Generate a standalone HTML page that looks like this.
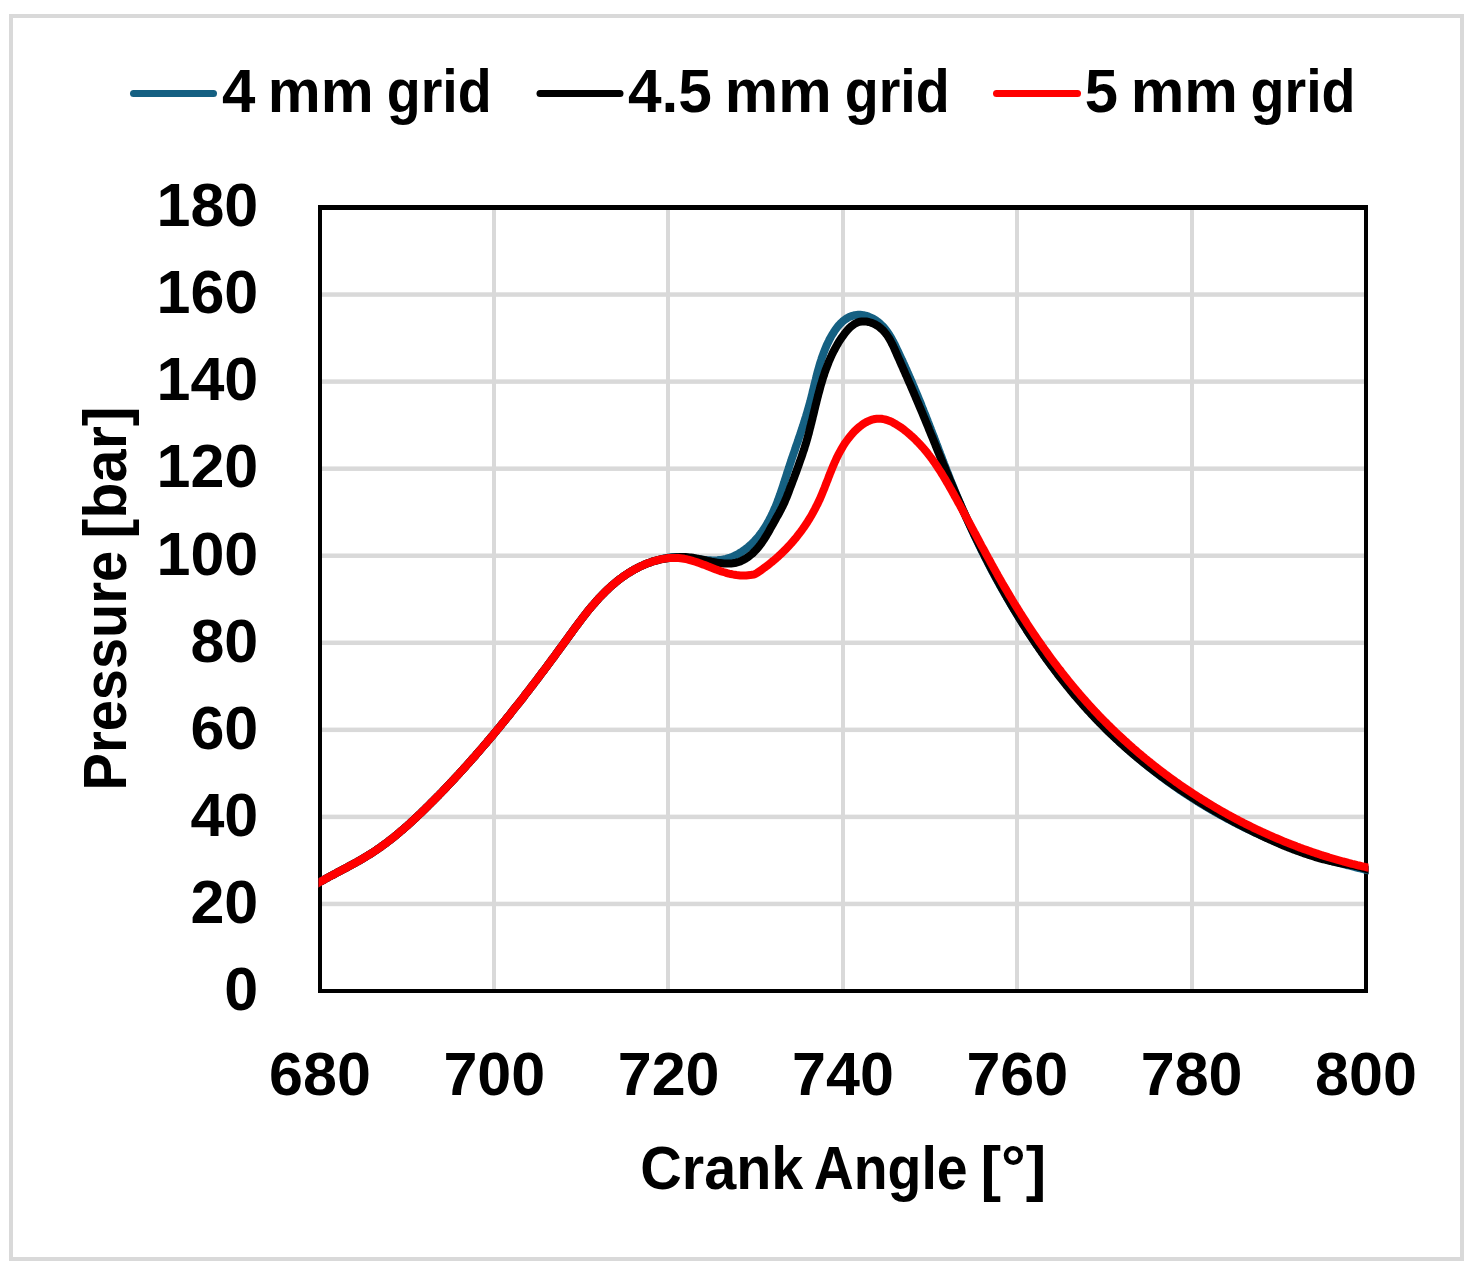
<!DOCTYPE html>
<html><head><meta charset="utf-8"><title>Pressure vs Crank Angle</title>
<style>html,body{margin:0;padding:0;background:#fff;}body{width:1473px;height:1271px;overflow:hidden;}svg{display:block;}</style>
</head><body>
<svg width="1473" height="1271" viewBox="0 0 1473 1271"><rect x="0" y="0" width="1473" height="1271" fill="#fff"/><rect x="11" y="16" width="1451" height="1243" fill="none" stroke="#d9d9d9" stroke-width="4"/><g fill="#d9d9d9"><rect x="322" y="901.69" width="1042" height="4.5"/><rect x="322" y="814.64" width="1042" height="4.5"/><rect x="322" y="727.58" width="1042" height="4.5"/><rect x="322" y="640.53" width="1042" height="4.5"/><rect x="322" y="553.47" width="1042" height="4.5"/><rect x="322" y="466.42" width="1042" height="4.5"/><rect x="322" y="379.36" width="1042" height="4.5"/><rect x="322" y="292.31" width="1042" height="4.5"/><rect x="492" y="210" width="4" height="779"/><rect x="666" y="210" width="4" height="779"/><rect x="841" y="210" width="4" height="779"/><rect x="1015" y="210" width="4" height="779"/><rect x="1190" y="210" width="4" height="779"/></g><g fill="#000"><rect x="318" y="205" width="4" height="788"/><rect x="1364" y="205" width="4" height="788"/><rect x="318" y="205" width="1050" height="5"/><rect x="318" y="989" width="1050" height="4"/></g><clipPath id="pc"><rect x="318.5" y="150" width="1050" height="843"/></clipPath><g fill="none" stroke-width="8" stroke-linejoin="round" clip-path="url(#pc)"><path d="M311.3,887.1 L313.0,886.1 L314.7,885.1 L316.4,884.1 L318.0,883.1 L319.7,882.1 L321.4,881.1 L323.1,880.2 L324.8,879.2 L326.5,878.3 L328.2,877.4 L329.9,876.4 L331.7,875.5 L333.4,874.6 L335.1,873.7 L336.8,872.8 L338.5,871.8 L340.3,870.9 L342.0,870.0 L343.7,869.1 L345.4,868.2 L347.2,867.3 L348.9,866.3 L350.6,865.4 L352.3,864.5 L354.0,863.5 L355.7,862.6 L357.4,861.6 L359.1,860.7 L360.8,859.7 L362.5,858.7 L364.1,857.8 L365.8,856.8 L367.5,855.7 L369.1,854.7 L370.8,853.7 L372.4,852.6 L374.0,851.6 L375.7,850.5 L377.3,849.4 L378.9,848.3 L380.5,847.2 L382.0,846.1 L383.6,844.9 L385.2,843.8 L386.7,842.6 L388.3,841.4 L389.8,840.2 L391.4,839.0 L392.9,837.8 L394.4,836.6 L395.9,835.4 L397.4,834.1 L398.9,832.9 L400.4,831.6 L401.9,830.3 L403.4,829.1 L404.8,827.8 L406.3,826.5 L407.8,825.2 L409.2,823.9 L410.7,822.6 L412.1,821.2 L413.5,819.9 L415.0,818.6 L416.4,817.2 L417.8,815.9 L419.2,814.5 L420.7,813.2 L422.1,811.8 L423.5,810.5 L424.9,809.1 L426.3,807.7 L427.7,806.3 L429.0,805.0 L430.4,803.6 L431.8,802.2 L433.2,800.8 L434.6,799.4 L435.9,798.1 L437.3,796.7 L438.7,795.3 L440.0,793.9 L441.4,792.5 L442.7,791.1 L444.1,789.7 L445.4,788.3 L446.8,786.9 L448.1,785.4 L449.4,784.0 L450.8,782.6 L452.1,781.2 L453.4,779.8 L454.8,778.4 L456.1,776.9 L457.4,775.5 L458.7,774.1 L460.0,772.6 L461.3,771.2 L462.6,769.8 L463.9,768.3 L465.3,766.9 L466.5,765.5 L467.8,764.0 L469.1,762.6 L470.4,761.1 L471.7,759.7 L473.0,758.2 L474.3,756.8 L475.6,755.3 L476.8,753.8 L478.1,752.4 L479.4,750.9 L480.6,749.5 L481.9,748.0 L483.2,746.5 L484.4,745.0 L485.7,743.6 L487.0,742.1 L488.2,740.6 L489.5,739.1 L490.7,737.7 L492.0,736.2 L493.2,734.7 L494.4,733.2 L495.7,731.7 L496.9,730.2 L498.2,728.7 L499.4,727.2 L500.6,725.7 L501.8,724.2 L503.1,722.7 L504.3,721.2 L505.5,719.7 L506.7,718.2 L508.0,716.7 L509.2,715.2 L510.4,713.7 L511.6,712.1 L512.8,710.6 L514.0,709.1 L515.2,707.6 L516.4,706.1 L517.7,704.5 L518.9,703.0 L520.1,701.5 L521.3,699.9 L522.5,698.4 L523.7,696.9 L524.8,695.3 L526.0,693.8 L527.2,692.3 L528.4,690.7 L529.6,689.2 L530.8,687.6 L532.0,686.1 L533.2,684.5 L534.3,683.0 L535.5,681.4 L536.7,679.9 L537.9,678.3 L539.1,676.8 L540.2,675.2 L541.4,673.6 L542.6,672.1 L543.8,670.5 L544.9,669.0 L546.1,667.4 L547.3,665.8 L548.4,664.2 L549.6,662.7 L550.8,661.1 L551.9,659.5 L553.1,657.9 L554.3,656.4 L555.4,654.8 L556.6,653.2 L557.8,651.6 L558.9,650.0 L560.1,648.4 L561.2,646.9 L562.4,645.3 L563.6,643.7 L564.7,642.1 L565.9,640.5 L567.0,638.9 L568.2,637.3 L569.3,635.7 L570.5,634.1 L571.7,632.5 L572.8,630.9 L574.0,629.3 L575.1,627.7 L576.3,626.2 L577.5,624.6 L578.7,623.0 L579.8,621.4 L581.0,619.9 L582.2,618.3 L583.4,616.8 L584.6,615.2 L585.8,613.7 L587.1,612.1 L588.3,610.6 L589.5,609.1 L590.8,607.6 L592.0,606.1 L593.3,604.6 L594.6,603.2 L595.8,601.7 L597.1,600.3 L598.4,598.8 L599.7,597.4 L601.1,596.0 L602.4,594.6 L603.7,593.3 L605.1,591.9 L606.5,590.5 L607.9,589.2 L609.3,587.9 L610.7,586.6 L612.1,585.3 L613.6,584.1 L615.1,582.9 L616.5,581.6 L618.0,580.4 L619.5,579.3 L621.1,578.1 L622.6,577.0 L624.2,575.9 L625.8,574.8 L627.4,573.7 L629.0,572.7 L630.7,571.7 L632.3,570.7 L634.0,569.7 L635.8,568.8 L637.5,567.9 L639.2,567.0 L641.0,566.1 L642.8,565.3 L644.6,564.5 L646.4,563.8 L648.3,563.1 L650.1,562.4 L652.0,561.7 L653.9,561.2 L656.8,560.3 L658.6,559.8 L660.4,559.4 L662.2,558.9 L664.0,558.5 L665.8,558.2 L667.6,557.8 L669.4,557.5 L671.3,557.3 L673.1,557.2 L675.0,557.0 L676.8,557.0 L678.7,557.0 L680.5,557.1 L682.4,557.2 L684.3,557.3 L686.1,557.5 L688.0,557.7 L689.9,558.0 L691.8,558.2 L693.6,558.5 L695.5,558.8 L697.3,559.0 L699.2,559.3 L701.1,559.5 L702.9,559.7 L704.7,559.9 L706.6,560.1 L708.4,560.2 L710.2,560.3 L712.0,560.4 L713.8,560.4 L715.6,560.4 L717.4,560.3 L719.2,560.1 L720.9,559.9 L722.6,559.6 L724.4,559.3 L726.1,558.9 L727.7,558.4 L729.4,557.9 L731.1,557.3 L732.7,556.6 L734.3,555.9 L735.9,555.1 L737.5,554.3 L739.0,553.5 L740.6,552.5 L742.1,551.6 L743.5,550.6 L745.0,549.5 L746.4,548.4 L747.8,547.3 L749.2,546.1 L750.6,544.9 L751.9,543.7 L753.2,542.4 L754.4,541.1 L755.6,539.8 L756.8,538.4 L758.0,537.1 L759.1,535.7 L760.2,534.2 L761.3,532.8 L762.4,531.3 L763.4,529.8 L764.4,528.3 L765.4,526.8 L766.3,525.2 L767.2,523.6 L768.1,522.1 L769.0,520.4 L769.8,518.8 L770.7,517.2 L771.5,515.5 L772.3,513.9 L773.1,512.2 L773.8,510.5 L774.5,508.8 L775.3,507.1 L776.0,505.4 L776.7,503.6 L777.4,501.9 L778.0,500.1 L778.7,498.4 L779.3,496.6 L780.0,494.8 L780.6,493.1 L781.2,491.3 L781.8,489.5 L782.4,487.7 L783.0,485.9 L783.6,484.1 L784.2,482.3 L784.7,480.6 L785.3,478.8 L785.9,477.0 L786.5,475.2 L787.0,473.4 L787.6,471.7 L788.2,469.9 L788.8,468.1 L789.3,466.4 L789.9,464.6 L790.5,462.9 L791.1,461.1 L791.6,459.4 L792.2,457.7 L792.8,455.9 L793.4,454.2 L794.0,452.5 L794.6,450.8 L795.2,449.1 L795.7,447.4 L796.3,445.7 L796.9,444.0 L797.5,442.3 L798.1,440.6 L798.6,438.9 L799.2,437.2 L799.8,435.5 L800.4,433.8 L800.9,432.1 L801.5,430.4 L802.1,428.7 L802.6,427.0 L803.2,425.3 L803.7,423.6 L804.3,421.9 L804.8,420.2 L805.3,418.5 L805.9,416.7 L806.4,415.0 L806.9,413.3 L807.4,411.6 L807.9,409.8 L808.4,408.1 L808.9,406.4 L809.4,404.6 L809.9,402.9 L810.4,401.1 L810.8,399.4 L811.3,397.6 L811.7,395.8 L812.2,394.0 L812.6,392.2 L813.0,390.4 L813.5,388.7 L813.9,386.9 L814.3,385.1 L814.8,383.3 L815.2,381.5 L815.7,379.7 L816.1,377.9 L816.6,376.0 L817.0,374.2 L817.5,372.4 L818.0,370.6 L818.5,368.9 L819.0,367.1 L819.5,365.3 L820.0,363.5 L820.6,361.7 L821.2,359.9 L821.7,358.2 L822.3,356.4 L823.0,354.7 L823.6,352.9 L824.3,351.2 L825.0,349.4 L825.7,347.7 L826.4,346.0 L827.2,344.3 L828.0,342.6 L828.8,341.0 L829.6,339.3 L830.5,337.7 L831.4,336.0 L832.4,334.4 L833.4,332.8 L834.4,331.2 L835.5,329.6 L836.6,328.1 L837.7,326.6 L838.9,325.2 L840.1,323.9 L841.4,322.6 L842.7,321.4 L844.1,320.2 L845.5,319.2 L847.0,318.3 L848.5,317.4 L850.0,316.7 L851.6,316.1 L853.3,315.6 L854.9,315.2 L856.6,315.0 L858.3,314.8 L860.0,314.8 L861.8,315.0 L863.5,315.2 L865.2,315.6 L866.9,316.0 L868.6,316.6 L870.2,317.3 L871.9,318.1 L873.5,318.9 L875.1,319.9 L876.6,320.9 L878.1,322.0 L879.5,323.1 L880.8,324.4 L882.1,325.6 L883.4,326.9 L884.6,328.3 L885.7,329.7 L886.9,331.2 L887.9,332.7 L888.9,334.2 L889.9,335.8 L890.9,337.4 L891.8,339.0 L892.7,340.7 L893.6,342.3 L894.5,344.0 L895.3,345.7 L896.1,347.4 L896.9,349.1 L897.7,350.8 L898.5,352.5 L899.3,354.2 L900.1,355.9 L900.9,357.6 L901.7,359.3 L902.5,360.9 L903.2,362.6 L904.0,364.3 L904.7,366.0 L905.5,367.7 L906.3,369.3 L907.0,371.0 L907.7,372.7 L908.5,374.4 L909.2,376.0 L909.9,377.7 L910.7,379.4 L911.4,381.1 L912.1,382.7 L912.8,384.4 L913.5,386.1 L914.2,387.7 L914.9,389.4 L915.6,391.1 L916.3,392.8 L917.0,394.4 L917.7,396.1 L918.4,397.8 L919.1,399.5 L919.8,401.1 L920.5,402.8 L921.2,404.5 L921.8,406.2 L922.5,407.9 L923.2,409.6 L923.8,411.2 L924.5,412.9 L925.2,414.6 L925.8,416.3 L926.5,418.0 L927.2,419.7 L927.8,421.4 L928.5,423.1 L929.1,424.8 L929.8,426.5 L930.5,428.2 L931.1,429.9 L931.8,431.5 L932.4,433.2 L933.1,434.9 L933.7,436.6 L934.4,438.3 L935.0,440.0 L935.7,441.7 L936.3,443.4 L937.0,445.1 L937.6,446.8 L938.3,448.5 L938.9,450.2 L939.6,451.9 L940.2,453.6 L940.9,455.4 L941.5,457.1 L942.2,458.8 L942.8,460.5 L943.5,462.2 L944.1,463.9 L944.8,465.6 L945.5,467.3 L946.1,469.0 L946.8,470.7 L947.5,472.4 L948.1,474.1 L948.8,475.8 L949.5,477.5 L950.1,479.2 L950.8,480.9 L951.5,482.5 L952.2,484.2 L952.9,485.9 L953.5,487.6 L954.2,489.3 L954.9,491.0 L955.6,492.7 L956.3,494.4 L957.0,496.1 L957.7,497.8 L958.4,499.5 L959.1,501.2 L959.8,502.8 L960.6,504.5 L961.3,506.2 L962.0,507.9 L962.7,509.6 L963.5,511.2 L964.2,512.9 L964.9,514.6 L965.7,516.3 L966.4,518.0 L967.2,519.6 L967.9,521.3 L968.7,523.0 L969.4,524.6 L970.2,526.3 L971.0,528.0 L971.7,529.6 L972.5,531.3 L973.3,533.0 L974.0,534.6 L974.8,536.3 L975.6,537.9 L976.4,539.6 L977.2,541.2 L978.0,542.9 L978.8,544.5 L979.6,546.2 L980.4,547.8 L981.2,549.5 L982.0,551.1 L982.8,552.8 L983.7,554.4 L984.5,556.1 L985.3,557.7 L986.1,559.3 L987.0,561.0 L987.8,562.6 L988.6,564.2 L989.5,565.9 L990.3,567.5 L991.2,569.1 L992.0,570.7 L992.9,572.3 L993.8,574.0 L994.6,575.6 L995.5,577.2 L996.4,578.8 L997.3,580.4 L998.1,582.0 L999.0,583.6 L999.9,585.2 L1000.8,586.8 L1001.7,588.4 L1002.6,590.0 L1003.5,591.6 L1004.4,593.2 L1005.3,594.8 L1006.2,596.4 L1007.1,598.0 L1008.1,599.6 L1009.0,601.1 L1009.9,602.7 L1010.9,604.3 L1011.8,605.9 L1012.7,607.4 L1013.7,609.0 L1014.6,610.6 L1015.6,612.1 L1016.5,613.7 L1017.5,615.3 L1018.4,616.8 L1019.4,618.4 L1020.4,619.9 L1021.4,621.5 L1022.3,623.0 L1023.3,624.6 L1024.3,626.1 L1025.3,627.6 L1026.3,629.2 L1027.3,630.7 L1028.3,632.2 L1029.3,633.8 L1030.3,635.3 L1031.3,636.8 L1032.3,638.3 L1033.4,639.8 L1034.4,641.3 L1035.4,642.9 L1036.4,644.4 L1037.5,645.9 L1038.5,647.4 L1039.6,648.9 L1040.6,650.4 L1041.7,651.8 L1042.7,653.3 L1043.8,654.8 L1044.8,656.3 L1045.9,657.8 L1047.0,659.2 L1048.1,660.7 L1049.1,662.2 L1050.2,663.7 L1051.3,665.1 L1052.4,666.6 L1053.5,668.0 L1054.6,669.5 L1055.7,670.9 L1056.8,672.4 L1057.9,673.8 L1059.1,675.3 L1060.2,676.7 L1061.3,678.1 L1062.4,679.6 L1063.6,681.0 L1064.7,682.4 L1065.9,683.8 L1067.0,685.2 L1068.2,686.7 L1069.3,688.1 L1070.5,689.5 L1071.6,690.9 L1072.8,692.3 L1074.0,693.7 L1075.1,695.0 L1076.3,696.4 L1077.5,697.8 L1078.7,699.2 L1079.9,700.6 L1081.1,701.9 L1082.3,703.3 L1083.5,704.7 L1084.7,706.0 L1085.9,707.4 L1087.1,708.7 L1088.4,710.1 L1089.6,711.4 L1090.8,712.8 L1092.1,714.1 L1093.3,715.4 L1094.5,716.8 L1095.8,718.1 L1097.0,719.4 L1098.3,720.7 L1099.6,722.0 L1100.8,723.3 L1102.1,724.6 L1103.4,725.9 L1104.7,727.2 L1105.9,728.5 L1107.2,729.8 L1108.5,731.1 L1109.8,732.4 L1111.1,733.6 L1112.4,734.9 L1113.7,736.2 L1115.1,737.4 L1116.4,738.7 L1117.7,739.9 L1119.0,741.2 L1120.4,742.4 L1121.7,743.7 L1123.0,744.9 L1124.4,746.1 L1125.7,747.3 L1127.1,748.6 L1128.5,749.8 L1129.8,751.0 L1131.2,752.2 L1132.6,753.4 L1133.9,754.6 L1135.3,755.8 L1136.7,757.0 L1138.1,758.2 L1139.5,759.3 L1140.9,760.5 L1142.3,761.7 L1143.7,762.8 L1145.1,764.0 L1146.6,765.1 L1148.0,766.3 L1149.4,767.4 L1150.8,768.6 L1152.3,769.7 L1153.7,770.8 L1155.2,772.0 L1156.6,773.1 L1158.1,774.2 L1159.5,775.3 L1161.0,776.4 L1162.5,777.5 L1164.0,778.6 L1165.4,779.7 L1166.9,780.8 L1168.4,781.9 L1169.9,782.9 L1171.4,784.0 L1172.9,785.1 L1174.4,786.1 L1175.9,787.2 L1177.4,788.2 L1178.9,789.3 L1180.4,790.3 L1182.0,791.3 L1183.5,792.4 L1185.0,793.4 L1186.5,794.4 L1188.1,795.4 L1189.6,796.4 L1191.2,797.4 L1192.7,798.4 L1194.3,799.4 L1195.8,800.4 L1197.4,801.4 L1199.0,802.3 L1200.5,803.3 L1202.1,804.3 L1203.7,805.2 L1205.2,806.2 L1206.8,807.1 L1208.4,808.1 L1210.0,809.0 L1211.6,809.9 L1213.2,810.8 L1214.8,811.8 L1216.4,812.7 L1218.0,813.6 L1219.6,814.5 L1221.2,815.4 L1222.8,816.2 L1224.4,817.1 L1226.0,818.0 L1227.6,818.9 L1229.3,819.7 L1230.9,820.6 L1232.5,821.5 L1234.1,822.3 L1235.8,823.1 L1237.4,824.0 L1239.0,824.8 L1240.7,825.6 L1242.3,826.5 L1244.0,827.3 L1245.6,828.1 L1247.3,828.9 L1248.9,829.7 L1250.6,830.5 L1252.2,831.2 L1253.9,832.0 L1255.5,832.8 L1257.2,833.5 L1258.9,834.3 L1260.5,835.0 L1262.2,835.8 L1263.9,836.5 L1265.6,837.3 L1267.2,838.0 L1268.9,838.7 L1270.6,839.4 L1272.3,840.1 L1273.9,840.8 L1275.6,841.5 L1277.3,842.2 L1279.0,842.9 L1280.7,843.6 L1282.4,844.2 L1284.1,844.9 L1285.8,845.6 L1287.5,846.2 L1289.2,846.9 L1290.9,847.5 L1292.6,848.1 L1294.3,848.7 L1296.0,849.4 L1297.7,850.0 L1299.4,850.6 L1301.1,851.2 L1302.8,851.8 L1304.5,852.4 L1306.2,852.9 L1307.9,853.5 L1309.6,854.1 L1311.4,854.6 L1313.1,855.2 L1314.8,855.7 L1316.5,856.3 L1318.2,856.8 L1320.0,857.4 L1321.7,857.9 L1323.4,858.4 L1325.2,858.9 L1326.9,859.5 L1328.6,860.0 L1330.4,860.5 L1332.1,861.0 L1333.9,861.5 L1335.6,862.0 L1337.4,862.4 L1339.1,862.9 L1340.9,863.4 L1342.6,863.9 L1344.4,864.4 L1346.2,864.8 L1347.9,865.3 L1349.7,865.7 L1351.5,866.2 L1353.3,866.7 L1355.0,867.1 L1356.8,867.6 L1358.6,868.0 L1360.4,868.4 L1362.2,868.9 L1364.0,869.3 L1365.8,869.8 L1367.6,870.2 L1369.4,870.6 L1371.3,871.0 L1373.1,871.5 L1374.9,871.9" stroke="#156082"/><path d="M311.3,887.1 L313.0,886.1 L314.7,885.1 L316.4,884.1 L318.0,883.1 L319.7,882.1 L321.4,881.1 L323.1,880.2 L324.8,879.2 L326.5,878.3 L328.2,877.4 L329.9,876.4 L331.7,875.5 L333.4,874.6 L335.1,873.7 L336.8,872.8 L338.5,871.8 L340.3,870.9 L342.0,870.0 L343.7,869.1 L345.4,868.2 L347.2,867.3 L348.9,866.3 L350.6,865.4 L352.3,864.5 L354.0,863.5 L355.7,862.6 L357.4,861.6 L359.1,860.7 L360.8,859.7 L362.5,858.7 L364.1,857.8 L365.8,856.8 L367.5,855.7 L369.1,854.7 L370.8,853.7 L372.4,852.6 L374.0,851.6 L375.7,850.5 L377.3,849.4 L378.9,848.3 L380.5,847.2 L382.0,846.1 L383.6,844.9 L385.2,843.8 L386.7,842.6 L388.3,841.4 L389.8,840.2 L391.4,839.0 L392.9,837.8 L394.4,836.6 L395.9,835.4 L397.4,834.1 L398.9,832.9 L400.4,831.6 L401.9,830.3 L403.4,829.1 L404.8,827.8 L406.3,826.5 L407.8,825.2 L409.2,823.9 L410.7,822.6 L412.1,821.2 L413.5,819.9 L415.0,818.6 L416.4,817.2 L417.8,815.9 L419.2,814.5 L420.7,813.2 L422.1,811.8 L423.5,810.5 L424.9,809.1 L426.3,807.7 L427.7,806.3 L429.0,805.0 L430.4,803.6 L431.8,802.2 L433.2,800.8 L434.6,799.4 L435.9,798.1 L437.3,796.7 L438.7,795.3 L440.0,793.9 L441.4,792.5 L442.7,791.1 L444.1,789.7 L445.4,788.3 L446.8,786.9 L448.1,785.4 L449.4,784.0 L450.8,782.6 L452.1,781.2 L453.4,779.8 L454.8,778.4 L456.1,776.9 L457.4,775.5 L458.7,774.1 L460.0,772.6 L461.3,771.2 L462.6,769.8 L463.9,768.3 L465.3,766.9 L466.5,765.5 L467.8,764.0 L469.1,762.6 L470.4,761.1 L471.7,759.7 L473.0,758.2 L474.3,756.8 L475.6,755.3 L476.8,753.8 L478.1,752.4 L479.4,750.9 L480.6,749.5 L481.9,748.0 L483.2,746.5 L484.4,745.0 L485.7,743.6 L487.0,742.1 L488.2,740.6 L489.5,739.1 L490.7,737.7 L492.0,736.2 L493.2,734.7 L494.4,733.2 L495.7,731.7 L496.9,730.2 L498.2,728.7 L499.4,727.2 L500.6,725.7 L501.8,724.2 L503.1,722.7 L504.3,721.2 L505.5,719.7 L506.7,718.2 L508.0,716.7 L509.2,715.2 L510.4,713.7 L511.6,712.1 L512.8,710.6 L514.0,709.1 L515.2,707.6 L516.4,706.1 L517.7,704.5 L518.9,703.0 L520.1,701.5 L521.3,699.9 L522.5,698.4 L523.7,696.9 L524.8,695.3 L526.0,693.8 L527.2,692.3 L528.4,690.7 L529.6,689.2 L530.8,687.6 L532.0,686.1 L533.2,684.5 L534.3,683.0 L535.5,681.4 L536.7,679.9 L537.9,678.3 L539.1,676.8 L540.2,675.2 L541.4,673.6 L542.6,672.1 L543.8,670.5 L544.9,669.0 L546.1,667.4 L547.3,665.8 L548.4,664.2 L549.6,662.7 L550.8,661.1 L551.9,659.5 L553.1,657.9 L554.3,656.4 L555.4,654.8 L556.6,653.2 L557.8,651.6 L558.9,650.0 L560.1,648.4 L561.2,646.9 L562.4,645.3 L563.6,643.7 L564.7,642.1 L565.9,640.5 L567.0,638.9 L568.2,637.3 L569.3,635.7 L570.5,634.1 L571.7,632.5 L572.8,630.9 L574.0,629.3 L575.1,627.7 L576.3,626.2 L577.5,624.6 L578.7,623.0 L579.8,621.4 L581.0,619.9 L582.2,618.3 L583.4,616.8 L584.6,615.2 L585.8,613.7 L587.1,612.1 L588.3,610.6 L589.5,609.1 L590.8,607.6 L592.0,606.1 L593.3,604.6 L594.6,603.2 L595.8,601.7 L597.1,600.3 L598.4,598.8 L599.7,597.4 L601.1,596.0 L602.4,594.6 L603.7,593.3 L605.1,591.9 L606.5,590.5 L607.9,589.2 L609.3,587.9 L610.7,586.6 L612.1,585.3 L613.6,584.1 L615.1,582.9 L616.5,581.6 L618.0,580.4 L619.5,579.3 L621.1,578.1 L622.6,577.0 L624.2,575.9 L625.8,574.8 L627.4,573.7 L629.0,572.7 L630.7,571.7 L632.3,570.7 L634.0,569.7 L635.8,568.8 L637.5,567.9 L639.2,567.0 L641.0,566.1 L642.8,565.3 L644.6,564.5 L646.4,563.8 L648.3,563.1 L650.1,562.4 L652.0,561.7 L653.9,561.2 L657.1,560.3 L658.8,559.8 L660.5,559.4 L662.3,559.1 L664.0,558.8 L665.8,558.5 L667.5,558.2 L669.3,558.0 L671.1,557.8 L672.9,557.6 L674.7,557.4 L676.5,557.3 L678.3,557.2 L680.1,557.1 L681.9,557.0 L683.7,557.0 L685.5,557.1 L687.4,557.2 L689.2,557.4 L691.0,557.6 L692.9,557.8 L694.7,558.1 L696.6,558.5 L698.4,558.8 L700.3,559.2 L702.1,559.6 L704.0,560.0 L705.8,560.4 L707.7,560.8 L709.5,561.2 L711.4,561.6 L713.2,561.9 L715.0,562.3 L716.9,562.6 L718.7,562.9 L720.5,563.1 L722.3,563.3 L724.0,563.5 L725.8,563.6 L727.6,563.6 L729.3,563.6 L731.1,563.5 L732.8,563.3 L734.5,563.0 L736.2,562.7 L737.9,562.2 L739.5,561.7 L741.2,561.0 L742.8,560.2 L744.4,559.4 L745.9,558.5 L747.5,557.4 L749.0,556.3 L750.4,555.2 L751.9,554.0 L753.3,552.7 L754.6,551.4 L755.9,550.0 L757.1,548.7 L758.3,547.3 L759.5,545.8 L760.6,544.4 L761.7,542.9 L762.7,541.4 L763.7,539.9 L764.7,538.3 L765.7,536.8 L766.6,535.2 L767.5,533.7 L768.5,532.1 L769.4,530.5 L770.2,528.9 L771.1,527.3 L772.0,525.7 L772.9,524.2 L773.8,522.6 L774.7,521.0 L775.6,519.4 L776.4,517.8 L777.3,516.3 L778.2,514.7 L779.1,513.1 L779.9,511.5 L780.8,509.9 L781.6,508.3 L782.4,506.7 L783.2,505.0 L784.0,503.4 L784.7,501.8 L785.4,500.1 L786.1,498.4 L786.8,496.8 L787.5,495.1 L788.1,493.4 L788.8,491.7 L789.4,490.0 L790.0,488.3 L790.7,486.6 L791.3,484.9 L792.0,483.2 L792.6,481.5 L793.2,479.8 L793.9,478.2 L794.5,476.5 L795.1,474.8 L795.8,473.1 L796.4,471.4 L797.0,469.7 L797.6,468.0 L798.2,466.3 L798.8,464.6 L799.4,462.9 L800.0,461.2 L800.6,459.5 L801.2,457.8 L801.8,456.1 L802.4,454.4 L802.9,452.7 L803.5,451.0 L804.1,449.3 L804.6,447.6 L805.1,445.8 L805.7,444.1 L806.2,442.4 L806.7,440.6 L807.2,438.9 L807.7,437.1 L808.2,435.3 L808.7,433.6 L809.1,431.8 L809.6,430.0 L810.0,428.2 L810.5,426.5 L810.9,424.7 L811.4,422.9 L811.8,421.1 L812.3,419.3 L812.7,417.5 L813.1,415.7 L813.6,413.9 L814.0,412.1 L814.4,410.3 L814.9,408.5 L815.3,406.7 L815.7,404.9 L816.2,403.1 L816.6,401.3 L817.1,399.5 L817.5,397.7 L818.0,395.9 L818.4,394.2 L818.9,392.4 L819.4,390.6 L819.9,388.8 L820.3,387.0 L820.8,385.3 L821.4,383.5 L821.9,381.7 L822.4,380.0 L822.9,378.2 L823.5,376.5 L824.1,374.8 L824.6,373.0 L825.2,371.3 L825.8,369.6 L826.5,367.9 L827.1,366.2 L827.8,364.5 L828.4,362.8 L829.1,361.1 L829.8,359.4 L830.5,357.8 L831.3,356.1 L832.0,354.5 L832.8,352.9 L833.6,351.3 L834.5,349.7 L835.3,348.1 L836.2,346.5 L837.1,344.9 L838.0,343.4 L838.9,341.8 L839.9,340.3 L840.9,338.8 L841.9,337.3 L843.0,335.8 L844.1,334.3 L845.2,332.9 L846.3,331.5 L847.5,330.1 L848.7,328.8 L849.9,327.5 L851.2,326.4 L852.6,325.3 L853.9,324.3 L855.4,323.5 L856.9,322.7 L858.4,322.1 L860.0,321.7 L861.7,321.5 L863.4,321.4 L865.1,321.4 L866.9,321.6 L868.7,322.0 L870.5,322.5 L872.3,323.1 L874.1,323.9 L875.7,324.7 L877.4,325.7 L878.9,326.7 L880.3,327.9 L881.7,329.1 L883.0,330.3 L884.3,331.7 L885.4,333.1 L886.5,334.5 L887.6,336.0 L888.6,337.6 L889.6,339.2 L890.5,340.8 L891.4,342.5 L892.2,344.2 L893.1,345.9 L893.9,347.6 L894.6,349.3 L895.4,351.0 L896.2,352.8 L896.9,354.5 L897.7,356.2 L898.4,357.9 L899.2,359.6 L899.9,361.3 L900.7,363.0 L901.4,364.7 L902.2,366.4 L902.9,368.0 L903.6,369.7 L904.4,371.4 L905.1,373.0 L905.8,374.7 L906.6,376.3 L907.3,378.0 L908.0,379.6 L908.7,381.3 L909.4,382.9 L910.2,384.5 L910.9,386.2 L911.6,387.8 L912.3,389.5 L913.0,391.1 L913.7,392.7 L914.4,394.4 L915.1,396.0 L915.8,397.7 L916.5,399.3 L917.2,401.0 L917.9,402.6 L918.6,404.3 L919.3,406.0 L920.0,407.6 L920.7,409.3 L921.4,410.9 L922.1,412.6 L922.8,414.3 L923.5,416.0 L924.2,417.6 L924.9,419.3 L925.6,421.0 L926.3,422.7 L927.0,424.3 L927.7,426.0 L928.4,427.7 L929.0,429.4 L929.7,431.1 L930.4,432.8 L931.1,434.5 L931.8,436.1 L932.5,437.8 L933.2,439.5 L933.9,441.2 L934.6,442.9 L935.3,444.6 L935.9,446.3 L936.6,448.0 L937.3,449.7 L938.0,451.4 L938.7,453.1 L939.4,454.8 L940.1,456.5 L940.8,458.2 L941.5,459.9 L942.2,461.5 L942.9,463.2 L943.6,464.9 L944.3,466.6 L945.0,468.3 L945.7,470.0 L946.4,471.7 L947.1,473.4 L947.8,475.1 L948.5,476.8 L949.2,478.4 L949.9,480.1 L950.7,481.8 L951.4,483.5 L952.1,485.2 L952.8,486.8 L953.5,488.5 L954.2,490.2 L955.0,491.9 L955.7,493.5 L956.4,495.2 L957.1,496.9 L957.9,498.6 L958.6,500.2 L959.3,501.9 L960.1,503.5 L960.8,505.2 L961.5,506.9 L962.3,508.5 L963.0,510.2 L963.8,511.8 L964.5,513.5 L965.3,515.2 L966.0,516.8 L966.8,518.5 L967.5,520.1 L968.3,521.8 L969.0,523.4 L969.8,525.1 L970.6,526.7 L971.3,528.3 L972.1,530.0 L972.9,531.6 L973.7,533.3 L974.4,534.9 L975.2,536.5 L976.0,538.2 L976.8,539.8 L977.6,541.4 L978.4,543.1 L979.2,544.7 L980.0,546.3 L980.8,548.0 L981.6,549.6 L982.4,551.2 L983.2,552.8 L984.0,554.4 L984.8,556.1 L985.6,557.7 L986.4,559.3 L987.3,560.9 L988.1,562.5 L988.9,564.1 L989.8,565.8 L990.6,567.4 L991.4,569.0 L992.3,570.6 L993.1,572.2 L994.0,573.8 L994.8,575.4 L995.7,577.0 L996.5,578.6 L997.4,580.2 L998.3,581.8 L999.2,583.4 L1000.0,585.0 L1000.9,586.6 L1001.8,588.2 L1002.7,589.8 L1003.6,591.3 L1004.5,592.9 L1005.4,594.5 L1006.3,596.1 L1007.2,597.7 L1008.1,599.3 L1009.0,600.8 L1009.9,602.4 L1010.8,604.0 L1011.7,605.6 L1012.7,607.1 L1013.6,608.7 L1014.5,610.3 L1015.5,611.8 L1016.4,613.4 L1017.4,615.0 L1018.3,616.5 L1019.3,618.1 L1020.2,619.6 L1021.2,621.2 L1022.2,622.7 L1023.1,624.3 L1024.1,625.8 L1025.1,627.4 L1026.1,628.9 L1027.0,630.5 L1028.0,632.0 L1029.0,633.5 L1030.0,635.1 L1031.0,636.6 L1032.0,638.1 L1033.0,639.6 L1034.1,641.2 L1035.1,642.7 L1036.1,644.2 L1037.1,645.7 L1038.2,647.2 L1039.2,648.7 L1040.2,650.2 L1041.3,651.7 L1042.3,653.2 L1043.4,654.7 L1044.4,656.2 L1045.5,657.7 L1046.5,659.2 L1047.6,660.6 L1048.7,662.1 L1049.8,663.6 L1050.8,665.1 L1051.9,666.5 L1053.0,668.0 L1054.1,669.5 L1055.2,670.9 L1056.3,672.4 L1057.4,673.8 L1058.5,675.3 L1059.6,676.7 L1060.8,678.2 L1061.9,679.6 L1063.0,681.0 L1064.1,682.5 L1065.3,683.9 L1066.4,685.3 L1067.6,686.7 L1068.7,688.1 L1069.9,689.6 L1071.0,691.0 L1072.2,692.4 L1073.4,693.8 L1074.5,695.2 L1075.7,696.5 L1076.9,697.9 L1078.1,699.3 L1079.3,700.7 L1080.5,702.1 L1081.7,703.4 L1082.9,704.8 L1084.1,706.2 L1085.3,707.5 L1086.5,708.9 L1087.7,710.2 L1089.0,711.6 L1090.2,712.9 L1091.4,714.2 L1092.7,715.6 L1093.9,716.9 L1095.2,718.2 L1096.4,719.5 L1097.7,720.8 L1098.9,722.1 L1100.2,723.4 L1101.5,724.7 L1102.8,726.0 L1104.1,727.3 L1105.3,728.6 L1106.6,729.9 L1107.9,731.2 L1109.2,732.4 L1110.5,733.7 L1111.9,734.9 L1113.2,736.2 L1114.5,737.4 L1115.8,738.7 L1117.2,739.9 L1118.5,741.1 L1119.8,742.4 L1121.2,743.6 L1122.5,744.8 L1123.9,746.0 L1125.2,747.2 L1126.6,748.4 L1128.0,749.6 L1129.4,750.8 L1130.7,752.0 L1132.1,753.2 L1133.5,754.4 L1134.9,755.5 L1136.3,756.7 L1137.7,757.9 L1139.1,759.0 L1140.5,760.2 L1141.9,761.3 L1143.3,762.5 L1144.7,763.6 L1146.2,764.7 L1147.6,765.9 L1149.0,767.0 L1150.5,768.1 L1151.9,769.2 L1153.3,770.3 L1154.8,771.4 L1156.2,772.5 L1157.7,773.6 L1159.2,774.7 L1160.6,775.8 L1162.1,776.9 L1163.6,777.9 L1165.0,779.0 L1166.5,780.1 L1168.0,781.1 L1169.5,782.2 L1171.0,783.2 L1172.5,784.3 L1174.0,785.3 L1175.5,786.3 L1177.0,787.4 L1178.5,788.4 L1180.0,789.4 L1181.5,790.4 L1183.0,791.4 L1184.5,792.4 L1186.1,793.4 L1187.6,794.4 L1189.1,795.4 L1190.6,796.4 L1192.2,797.4 L1193.7,798.4 L1195.3,799.4 L1196.8,800.3 L1198.3,801.3 L1199.9,802.2 L1201.5,803.2 L1203.0,804.1 L1204.6,805.1 L1206.1,806.0 L1207.7,807.0 L1209.3,807.9 L1210.8,808.8 L1212.4,809.7 L1214.0,810.7 L1215.6,811.6 L1217.2,812.5 L1218.7,813.4 L1220.3,814.3 L1221.9,815.2 L1223.5,816.1 L1225.1,816.9 L1226.7,817.8 L1228.3,818.7 L1229.9,819.6 L1231.5,820.4 L1233.1,821.3 L1234.7,822.2 L1236.3,823.0 L1237.9,823.9 L1239.6,824.7 L1241.2,825.5 L1242.8,826.4 L1244.4,827.2 L1246.0,828.0 L1247.7,828.9 L1249.3,829.7 L1250.9,830.5 L1252.6,831.3 L1254.2,832.1 L1255.8,832.9 L1257.5,833.7 L1259.1,834.5 L1260.8,835.3 L1262.4,836.0 L1264.0,836.8 L1265.7,837.6 L1267.3,838.4 L1269.0,839.1 L1270.6,839.9 L1272.3,840.6 L1274.0,841.4 L1275.6,842.1 L1277.3,842.8 L1279.0,843.5 L1280.6,844.3 L1282.3,845.0 L1284.0,845.7 L1285.6,846.4 L1287.3,847.0 L1289.0,847.7 L1290.7,848.4 L1292.4,849.0 L1294.1,849.7 L1295.8,850.3 L1297.5,851.0 L1299.2,851.6 L1300.9,852.2 L1302.6,852.8 L1304.3,853.4 L1306.0,854.0 L1307.7,854.6 L1309.5,855.1 L1311.2,855.7 L1312.9,856.2 L1314.7,856.8 L1316.4,857.3 L1318.2,857.8 L1319.9,858.3 L1321.7,858.8 L1323.4,859.3 L1325.2,859.7 L1326.9,860.2 L1328.7,860.6 L1330.5,861.0 L1332.3,861.5 L1334.0,861.9 L1335.8,862.2 L1337.6,862.6 L1339.4,863.0 L1341.2,863.3 L1343.0,863.7 L1344.8,864.0 L1346.6,864.3 L1348.5,864.6 L1350.3,865.0 L1352.1,865.3 L1353.9,865.7 L1355.7,866.1 L1357.4,866.4 L1359.2,866.9 L1361.0,867.3 L1362.8,867.8 L1364.5,868.3 L1366.2,868.9 L1367.9,869.5 L1369.6,870.1 L1371.3,870.8 L1373.0,871.6 L1374.6,872.4" stroke="#000"/><path d="M311.3,887.1 L313.0,886.1 L314.7,885.1 L316.4,884.1 L318.0,883.1 L319.7,882.1 L321.4,881.1 L323.1,880.2 L324.8,879.2 L326.5,878.3 L328.2,877.4 L329.9,876.4 L331.7,875.5 L333.4,874.6 L335.1,873.7 L336.8,872.8 L338.5,871.8 L340.3,870.9 L342.0,870.0 L343.7,869.1 L345.4,868.2 L347.2,867.3 L348.9,866.3 L350.6,865.4 L352.3,864.5 L354.0,863.5 L355.7,862.6 L357.4,861.6 L359.1,860.7 L360.8,859.7 L362.5,858.7 L364.1,857.8 L365.8,856.8 L367.5,855.7 L369.1,854.7 L370.8,853.7 L372.4,852.6 L374.0,851.6 L375.7,850.5 L377.3,849.4 L378.9,848.3 L380.5,847.2 L382.0,846.1 L383.6,844.9 L385.2,843.8 L386.7,842.6 L388.3,841.4 L389.8,840.2 L391.4,839.0 L392.9,837.8 L394.4,836.6 L395.9,835.4 L397.4,834.1 L398.9,832.9 L400.4,831.6 L401.9,830.3 L403.4,829.1 L404.8,827.8 L406.3,826.5 L407.8,825.2 L409.2,823.9 L410.7,822.6 L412.1,821.2 L413.5,819.9 L415.0,818.6 L416.4,817.2 L417.8,815.9 L419.2,814.5 L420.7,813.2 L422.1,811.8 L423.5,810.5 L424.9,809.1 L426.3,807.7 L427.7,806.3 L429.0,805.0 L430.4,803.6 L431.8,802.2 L433.2,800.8 L434.6,799.4 L435.9,798.1 L437.3,796.7 L438.7,795.3 L440.0,793.9 L441.4,792.5 L442.7,791.1 L444.1,789.7 L445.4,788.3 L446.8,786.9 L448.1,785.4 L449.4,784.0 L450.8,782.6 L452.1,781.2 L453.4,779.8 L454.8,778.4 L456.1,776.9 L457.4,775.5 L458.7,774.1 L460.0,772.6 L461.3,771.2 L462.6,769.8 L463.9,768.3 L465.3,766.9 L466.5,765.5 L467.8,764.0 L469.1,762.6 L470.4,761.1 L471.7,759.7 L473.0,758.2 L474.3,756.8 L475.6,755.3 L476.8,753.8 L478.1,752.4 L479.4,750.9 L480.6,749.5 L481.9,748.0 L483.2,746.5 L484.4,745.0 L485.7,743.6 L487.0,742.1 L488.2,740.6 L489.5,739.1 L490.7,737.7 L492.0,736.2 L493.2,734.7 L494.4,733.2 L495.7,731.7 L496.9,730.2 L498.2,728.7 L499.4,727.2 L500.6,725.7 L501.8,724.2 L503.1,722.7 L504.3,721.2 L505.5,719.7 L506.7,718.2 L508.0,716.7 L509.2,715.2 L510.4,713.7 L511.6,712.1 L512.8,710.6 L514.0,709.1 L515.2,707.6 L516.4,706.1 L517.7,704.5 L518.9,703.0 L520.1,701.5 L521.3,699.9 L522.5,698.4 L523.7,696.9 L524.8,695.3 L526.0,693.8 L527.2,692.3 L528.4,690.7 L529.6,689.2 L530.8,687.6 L532.0,686.1 L533.2,684.5 L534.3,683.0 L535.5,681.4 L536.7,679.9 L537.9,678.3 L539.1,676.8 L540.2,675.2 L541.4,673.6 L542.6,672.1 L543.8,670.5 L544.9,669.0 L546.1,667.4 L547.3,665.8 L548.4,664.2 L549.6,662.7 L550.8,661.1 L551.9,659.5 L553.1,657.9 L554.3,656.4 L555.4,654.8 L556.6,653.2 L557.8,651.6 L558.9,650.0 L560.1,648.4 L561.2,646.9 L562.4,645.3 L563.6,643.7 L564.7,642.1 L565.9,640.5 L567.0,638.9 L568.2,637.3 L569.3,635.7 L570.5,634.1 L571.7,632.5 L572.8,630.9 L574.0,629.3 L575.1,627.7 L576.3,626.2 L577.5,624.6 L578.7,623.0 L579.8,621.4 L581.0,619.9 L582.2,618.3 L583.4,616.8 L584.6,615.2 L585.8,613.7 L587.1,612.1 L588.3,610.6 L589.5,609.1 L590.8,607.6 L592.0,606.1 L593.3,604.6 L594.6,603.2 L595.8,601.7 L597.1,600.3 L598.4,598.8 L599.7,597.4 L601.1,596.0 L602.4,594.6 L603.7,593.3 L605.1,591.9 L606.5,590.5 L607.9,589.2 L609.3,587.9 L610.7,586.6 L612.1,585.3 L613.6,584.1 L615.1,582.9 L616.5,581.6 L618.0,580.4 L619.5,579.3 L621.1,578.1 L622.6,577.0 L624.2,575.9 L625.8,574.8 L627.4,573.7 L629.0,572.7 L630.7,571.7 L632.3,570.7 L634.0,569.7 L635.8,568.8 L637.5,567.9 L639.2,567.0 L641.0,566.1 L642.8,565.3 L644.6,564.5 L646.4,563.8 L648.3,563.1 L650.1,562.4 L652.0,561.7 L653.9,561.2 L655.7,560.6 L657.6,560.1 L659.5,559.6 L661.4,559.2 L663.3,558.9 L665.3,558.6 L667.2,558.3 L669.1,558.1 L671.0,558.0 L672.9,557.9 L674.8,557.9 L676.7,558.0 L678.6,558.1 L680.5,558.3 L682.4,558.5 L684.3,558.8 L686.2,559.2 L688.1,559.6 L689.9,560.1 L691.8,560.6 L693.7,561.2 L695.5,561.8 L697.4,562.4 L699.2,563.0 L701.1,563.7 L702.9,564.4 L704.8,565.1 L706.6,565.8 L708.5,566.6 L710.3,567.3 L712.2,568.0 L714.0,568.7 L715.9,569.4 L717.7,570.1 L719.6,570.7 L721.4,571.4 L723.3,572.0 L725.2,572.5 L727.0,573.1 L728.9,573.6 L730.8,574.0 L732.7,574.4 L734.6,574.7 L736.5,575.0 L738.4,575.2 L740.3,575.4 L742.3,575.5 L744.2,575.5 L746.2,575.5 L748.2,575.3 L750.1,575.1 L752.1,574.8 L754.1,574.6 L755.5,573.8 L757.1,572.8 L758.6,571.8 L760.1,570.8 L761.6,569.8 L763.1,568.7 L764.5,567.6 L766.0,566.6 L767.5,565.5 L768.9,564.4 L770.3,563.2 L771.7,562.1 L773.1,560.9 L774.5,559.8 L775.9,558.6 L777.2,557.4 L778.6,556.2 L779.9,554.9 L781.2,553.7 L782.5,552.5 L783.8,551.2 L785.1,549.9 L786.4,548.6 L787.6,547.3 L788.8,546.0 L790.1,544.6 L791.3,543.3 L792.5,541.9 L793.6,540.6 L794.8,539.2 L796.0,537.8 L797.1,536.4 L798.2,534.9 L799.3,533.5 L800.4,532.1 L801.5,530.6 L802.5,529.2 L803.6,527.7 L804.6,526.2 L805.6,524.7 L806.6,523.2 L807.6,521.7 L808.6,520.1 L809.5,518.6 L810.5,517.0 L811.4,515.5 L812.3,513.9 L813.2,512.3 L814.0,510.7 L814.9,509.1 L815.7,507.5 L816.5,505.9 L817.4,504.3 L818.1,502.7 L818.9,501.0 L819.7,499.4 L820.4,497.7 L821.1,496.1 L821.8,494.4 L822.5,492.7 L823.2,491.0 L823.9,489.4 L824.6,487.7 L825.2,486.0 L825.9,484.3 L826.5,482.6 L827.2,480.9 L827.9,479.2 L828.5,477.5 L829.2,475.8 L829.8,474.1 L830.5,472.4 L831.2,470.7 L831.9,469.0 L832.6,467.3 L833.3,465.7 L834.0,464.0 L834.7,462.3 L835.5,460.7 L836.2,459.0 L837.0,457.4 L837.8,455.7 L838.6,454.1 L839.5,452.5 L840.4,450.9 L841.3,449.3 L842.2,447.7 L843.1,446.1 L844.1,444.5 L845.1,443.0 L846.2,441.5 L847.3,440.0 L848.4,438.5 L849.6,437.0 L850.8,435.5 L852.0,434.1 L853.2,432.7 L854.5,431.3 L855.9,430.0 L857.2,428.8 L858.6,427.5 L860.0,426.4 L861.4,425.3 L862.8,424.2 L864.3,423.3 L865.8,422.4 L867.3,421.6 L868.8,420.9 L870.4,420.3 L871.9,419.7 L873.5,419.3 L875.1,419.0 L876.7,418.8 L878.3,418.7 L879.9,418.7 L881.5,418.8 L883.2,419.1 L884.8,419.4 L886.4,419.9 L888.1,420.4 L889.7,421.0 L891.3,421.7 L892.9,422.5 L894.5,423.4 L896.1,424.3 L897.7,425.3 L899.3,426.3 L900.8,427.3 L902.4,428.5 L903.9,429.6 L905.4,430.8 L906.9,432.0 L908.3,433.2 L909.7,434.4 L911.1,435.7 L912.5,436.9 L913.9,438.2 L915.2,439.5 L916.5,440.8 L917.8,442.1 L919.1,443.5 L920.3,444.8 L921.6,446.2 L922.8,447.5 L924.0,448.9 L925.2,450.3 L926.3,451.7 L927.5,453.1 L928.6,454.6 L929.7,456.0 L930.8,457.5 L931.9,458.9 L932.9,460.4 L934.0,461.9 L935.0,463.3 L936.0,464.8 L937.0,466.3 L938.0,467.8 L939.0,469.4 L940.0,470.9 L941.0,472.4 L941.9,473.9 L942.9,475.5 L943.8,477.0 L944.8,478.6 L945.7,480.1 L946.6,481.7 L947.5,483.3 L948.4,484.8 L949.3,486.4 L950.2,488.0 L951.1,489.5 L952.0,491.1 L952.9,492.7 L953.8,494.3 L954.6,495.9 L955.5,497.4 L956.4,499.0 L957.3,500.6 L958.1,502.2 L959.0,503.8 L959.9,505.3 L960.7,506.9 L961.6,508.5 L962.5,510.1 L963.3,511.7 L964.2,513.3 L965.0,514.9 L965.9,516.5 L966.7,518.0 L967.6,519.6 L968.5,521.2 L969.3,522.8 L970.2,524.4 L971.0,526.0 L971.9,527.6 L972.7,529.2 L973.6,530.8 L974.4,532.4 L975.3,533.9 L976.1,535.5 L977.0,537.1 L977.8,538.7 L978.7,540.3 L979.5,541.9 L980.4,543.5 L981.2,545.1 L982.1,546.7 L983.0,548.2 L983.8,549.8 L984.7,551.4 L985.5,553.0 L986.4,554.6 L987.3,556.2 L988.1,557.8 L989.0,559.3 L989.9,560.9 L990.7,562.5 L991.6,564.1 L992.5,565.7 L993.3,567.2 L994.2,568.8 L995.1,570.4 L996.0,572.0 L996.9,573.5 L997.7,575.1 L998.6,576.7 L999.5,578.3 L1000.4,579.8 L1001.3,581.4 L1002.2,583.0 L1003.1,584.5 L1004.0,586.1 L1004.9,587.6 L1005.9,589.2 L1006.8,590.8 L1007.7,592.3 L1008.6,593.9 L1009.5,595.4 L1010.5,597.0 L1011.4,598.5 L1012.3,600.1 L1013.3,601.6 L1014.2,603.2 L1015.1,604.7 L1016.1,606.2 L1017.0,607.8 L1018.0,609.3 L1019.0,610.9 L1019.9,612.4 L1020.9,613.9 L1021.8,615.4 L1022.8,617.0 L1023.8,618.5 L1024.8,620.0 L1025.8,621.5 L1026.7,623.1 L1027.7,624.6 L1028.7,626.1 L1029.7,627.6 L1030.7,629.1 L1031.7,630.6 L1032.7,632.1 L1033.7,633.6 L1034.7,635.1 L1035.8,636.6 L1036.8,638.1 L1037.8,639.6 L1038.8,641.1 L1039.9,642.6 L1040.9,644.0 L1041.9,645.5 L1043.0,647.0 L1044.0,648.5 L1045.1,649.9 L1046.1,651.4 L1047.2,652.9 L1048.2,654.3 L1049.3,655.8 L1050.4,657.3 L1051.4,658.7 L1052.5,660.2 L1053.6,661.6 L1054.7,663.1 L1055.8,664.5 L1056.9,665.9 L1057.9,667.4 L1059.0,668.8 L1060.2,670.2 L1061.3,671.7 L1062.4,673.1 L1063.5,674.5 L1064.6,675.9 L1065.7,677.3 L1066.9,678.8 L1068.0,680.2 L1069.1,681.6 L1070.3,683.0 L1071.4,684.4 L1072.6,685.8 L1073.7,687.1 L1074.9,688.5 L1076.0,689.9 L1077.2,691.3 L1078.4,692.7 L1079.5,694.0 L1080.7,695.4 L1081.9,696.8 L1083.1,698.1 L1084.3,699.5 L1085.5,700.8 L1086.7,702.2 L1087.9,703.5 L1089.1,704.9 L1090.3,706.2 L1091.5,707.5 L1092.8,708.9 L1094.0,710.2 L1095.2,711.5 L1096.5,712.8 L1097.7,714.1 L1098.9,715.5 L1100.2,716.8 L1101.5,718.1 L1102.7,719.4 L1104.0,720.6 L1105.2,721.9 L1106.5,723.2 L1107.8,724.5 L1109.1,725.8 L1110.4,727.0 L1111.7,728.3 L1113.0,729.6 L1114.3,730.8 L1115.6,732.1 L1116.9,733.3 L1118.2,734.6 L1119.5,735.8 L1120.8,737.0 L1122.2,738.3 L1123.5,739.5 L1124.8,740.7 L1126.2,741.9 L1127.5,743.2 L1128.9,744.4 L1130.2,745.6 L1131.6,746.8 L1132.9,748.0 L1134.3,749.2 L1135.7,750.3 L1137.0,751.5 L1138.4,752.7 L1139.8,753.9 L1141.2,755.0 L1142.6,756.2 L1144.0,757.4 L1145.3,758.5 L1146.8,759.7 L1148.2,760.8 L1149.6,761.9 L1151.0,763.1 L1152.4,764.2 L1153.8,765.3 L1155.2,766.5 L1156.7,767.6 L1158.1,768.7 L1159.5,769.8 L1161.0,770.9 L1162.4,772.0 L1163.9,773.1 L1165.3,774.2 L1166.8,775.3 L1168.2,776.3 L1169.7,777.4 L1171.2,778.5 L1172.6,779.5 L1174.1,780.6 L1175.6,781.7 L1177.0,782.7 L1178.5,783.7 L1180.0,784.8 L1181.5,785.8 L1183.0,786.8 L1184.5,787.9 L1186.0,788.9 L1187.5,789.9 L1189.0,790.9 L1190.5,791.9 L1192.0,792.9 L1193.5,793.9 L1195.1,794.9 L1196.6,795.9 L1198.1,796.9 L1199.7,797.8 L1201.2,798.8 L1202.7,799.8 L1204.3,800.7 L1205.8,801.7 L1207.4,802.6 L1208.9,803.6 L1210.5,804.5 L1212.0,805.4 L1213.6,806.4 L1215.1,807.3 L1216.7,808.2 L1218.3,809.1 L1219.8,810.0 L1221.4,810.9 L1223.0,811.8 L1224.6,812.7 L1226.2,813.6 L1227.7,814.5 L1229.3,815.3 L1230.9,816.2 L1232.5,817.1 L1234.1,817.9 L1235.7,818.8 L1237.3,819.6 L1238.9,820.5 L1240.5,821.3 L1242.1,822.1 L1243.8,823.0 L1245.4,823.8 L1247.0,824.6 L1248.6,825.4 L1250.2,826.2 L1251.9,827.0 L1253.5,827.8 L1255.1,828.6 L1256.8,829.4 L1258.4,830.1 L1260.0,830.9 L1261.7,831.7 L1263.3,832.4 L1265.0,833.2 L1266.6,833.9 L1268.3,834.7 L1269.9,835.4 L1271.6,836.1 L1273.3,836.9 L1274.9,837.6 L1276.6,838.3 L1278.3,839.0 L1279.9,839.7 L1281.6,840.4 L1283.3,841.1 L1284.9,841.8 L1286.6,842.4 L1288.3,843.1 L1290.0,843.8 L1291.7,844.4 L1293.4,845.1 L1295.1,845.7 L1296.7,846.4 L1298.4,847.0 L1300.1,847.7 L1301.8,848.3 L1303.5,848.9 L1305.2,849.5 L1306.9,850.1 L1308.6,850.7 L1310.4,851.3 L1312.1,851.9 L1313.8,852.5 L1315.5,853.1 L1317.2,853.6 L1318.9,854.2 L1320.6,854.8 L1322.4,855.3 L1324.1,855.9 L1325.8,856.4 L1327.5,856.9 L1329.3,857.5 L1331.0,858.0 L1332.7,858.5 L1334.5,859.0 L1336.2,859.5 L1337.9,860.0 L1339.7,860.5 L1341.4,861.0 L1343.2,861.5 L1344.9,861.9 L1346.7,862.4 L1348.4,862.9 L1350.2,863.3 L1351.9,863.8 L1353.7,864.2 L1355.4,864.6 L1357.2,865.1 L1358.9,865.5 L1360.7,865.9 L1362.4,866.3 L1364.2,866.7 L1366.0,867.1 L1367.7,867.5 L1369.5,867.9 L1371.3,868.3 L1373.0,868.6 L1374.8,869.0" stroke="#ff0000"/></g><g stroke-width="7" stroke-linecap="round"><line x1="133.5" y1="93.5" x2="213.5" y2="93.5" stroke="#156082"/><line x1="540" y1="93.5" x2="620" y2="93.5" stroke="#000"/><line x1="996.5" y1="93.5" x2="1077.5" y2="93.5" stroke="#ff0000"/></g><g font-family='"Liberation Sans", sans-serif' font-weight="bold" fill="#000"><text x="222.00" y="112" font-size="61" textLength="33.41" lengthAdjust="spacingAndGlyphs">4</text><text x="267.87" y="112" font-size="61" textLength="105.84" lengthAdjust="spacingAndGlyphs">mm</text><text x="386.82" y="112" font-size="61" textLength="104.93" lengthAdjust="spacingAndGlyphs">grid</text><text x="627.89" y="112" font-size="61" textLength="84.01" lengthAdjust="spacingAndGlyphs">4.5</text><text x="724.84" y="112" font-size="61" textLength="106.81" lengthAdjust="spacingAndGlyphs">mm</text><text x="844.72" y="112" font-size="61" textLength="104.93" lengthAdjust="spacingAndGlyphs">grid</text><text x="1084.85" y="112" font-size="61" textLength="33.24" lengthAdjust="spacingAndGlyphs">5</text><text x="1130.72" y="112" font-size="61" textLength="107.24" lengthAdjust="spacingAndGlyphs">mm</text><text x="1250.62" y="112" font-size="61" textLength="104.93" lengthAdjust="spacingAndGlyphs">grid</text><text x="258.3" y="1009.8" font-size="61" text-anchor="end">0</text><text x="258.3" y="922.74" font-size="61" text-anchor="end">20</text><text x="258.3" y="835.69" font-size="61" text-anchor="end">40</text><text x="258.3" y="748.63" font-size="61" text-anchor="end">60</text><text x="258.3" y="661.58" font-size="61" text-anchor="end">80</text><text x="258.3" y="574.52" font-size="61" text-anchor="end">100</text><text x="258.3" y="487.47" font-size="61" text-anchor="end">120</text><text x="258.3" y="400.41" font-size="61" text-anchor="end">140</text><text x="258.3" y="313.36" font-size="61" text-anchor="end">160</text><text x="258.3" y="226.3" font-size="61" text-anchor="end">180</text><text x="320.0" y="1094.6" font-size="61" text-anchor="middle">680</text><text x="494.33" y="1094.6" font-size="61" text-anchor="middle">700</text><text x="668.67" y="1094.6" font-size="61" text-anchor="middle">720</text><text x="843.0" y="1094.6" font-size="61" text-anchor="middle">740</text><text x="1017.33" y="1094.6" font-size="61" text-anchor="middle">760</text><text x="1191.67" y="1094.6" font-size="61" text-anchor="middle">780</text><text x="1366.0" y="1094.6" font-size="61" text-anchor="middle">800</text><text x="640.34" y="1189" font-size="61" textLength="162.93" lengthAdjust="spacingAndGlyphs">Crank</text><text x="813.71" y="1189" font-size="61" textLength="153.96" lengthAdjust="spacingAndGlyphs">Angle</text><text x="980.54" y="1189" font-size="61" textLength="65.81" lengthAdjust="spacingAndGlyphs">[°]</text><text x="-790.45" y="0" font-size="61" textLength="239.54" lengthAdjust="spacingAndGlyphs" transform="translate(126,0) rotate(-90)">Pressure</text><text x="-538.43" y="0" font-size="61" textLength="131.96" lengthAdjust="spacingAndGlyphs" transform="translate(126,0) rotate(-90)">[bar]</text></g></svg>
</body></html>
